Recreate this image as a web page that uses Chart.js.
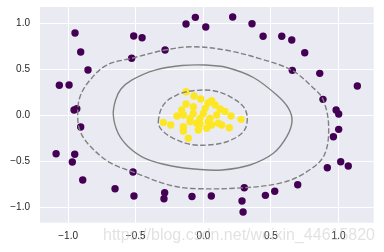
<!DOCTYPE html>
<html><head><meta charset="utf-8">
<script src="https://cdn.jsdelivr.net/npm/chart.js@4/dist/chart.umd.min.js"></script>
<style>html,body{margin:0;padding:0;background:#fff}#wrap{width:384px;height:252px}</style>
</head><body><div id="wrap"><canvas id="c" width="384" height="252"></canvas></div>
<script>
const tickValues = [-1.0, -0.5, 0.0, 0.5, 1.0];

const purpleX = [-0.128,-0.949,-0.515,-0.453,-0.907,-0.283,-0.530,-0.853,-1.065,-0.993,-0.956,-0.936,-0.907,
  -0.059,0.018,0.217,0.360,0.442,0.580,0.654,0.750,0.658,0.861,1.139,0.885,0.982,1.001,
  -1.089,-0.951,-0.969,-0.892,-0.520,-0.653,-0.513,-0.286,-0.291,-0.084,
  0.059,0.303,0.286,0.294,0.459,0.528,0.698,0.917,1.016,1.072,0.962,1.001];
const purpleY = [0.993,0.895,0.863,0.844,0.688,0.710,0.620,0.492,0.326,0.329,0.057,0.071,-0.129,
  1.066,0.961,1.070,0.997,0.861,0.861,0.819,0.681,0.489,0.456,0.318,0.173,0.057,0.013,
  -0.419,-0.426,-0.510,-0.706,-0.619,-0.801,-0.880,-0.844,-0.910,-0.886,
  -0.880,-0.790,-0.935,-1.054,-0.873,-0.829,-0.757,-0.572,-0.507,-0.553,-0.234,-0.154];

const yellowX = [-0.128,-0.019,0.062,-0.160,-0.074,0.013,0.124,0.205,0.279,-0.296,-0.241,-0.148,-0.098,-0.024,0.050,
  0.099,0.111,0.062,0.136,0.192,-0.148,-0.148,-0.037,0.025,-0.111,-0.074,0.000,0.037,-0.049,-0.098,
  0.035,0.087,-0.128,-0.195,-0.069,0.160,-0.024];
const yellowY = [0.256,0.176,0.158,0.057,0.093,0.075,0.068,-0.009,-0.045,-0.078,-0.107,0.002,-0.034,-0.034,-0.034,
  0.002,-0.088,-0.107,-0.107,-0.136,-0.125,-0.172,-0.161,-0.143,-0.251,0.020,0.020,-0.070,-0.088,-0.070,
  0.133,0.111,0.122,-0.009,0.209,0.040,-0.096];

// decision boundary (level 0), closed loop
const boundaryX = [-0.666,-0.649,-0.609,-0.530,-0.357,-0.160,0.013,0.173,0.370,0.543,0.629,0.656,0.617,0.518,0.345,0.138,-0.024,-0.234,-0.431,-0.555,-0.631];
const boundaryY = [0.002,0.166,0.285,0.383,0.492,0.541,0.547,0.520,0.411,0.220,0.078,-0.063,-0.234,-0.415,-0.542,-0.597,-0.592,-0.553,-0.469,-0.343,-0.194];
// outer margin (level -1), closed loop
const outerX = [-0.929,-0.912,-0.838,-0.714,-0.530,-0.283,-0.084,0.163,0.410,0.656,0.804,0.885,0.927,0.891,0.754,0.582,0.303,-0.084,-0.271,-0.518,-0.690,-0.838,-0.912];
const outerY = [0.002,0.202,0.383,0.547,0.620,0.710,0.746,0.710,0.620,0.489,0.310,0.173,-0.129,-0.444,-0.626,-0.735,-0.790,-0.798,-0.753,-0.619,-0.517,-0.336,-0.172];
// inner margin (level +1), closed loop
const innerX = [-0.333,-0.296,-0.197,-0.074,0.074,0.197,0.296,0.325,0.296,0.173,0.025,-0.098,-0.222,-0.308];
const innerY = [-0.071,0.111,0.220,0.267,0.267,0.202,0.093,-0.034,-0.180,-0.289,-0.325,-0.317,-0.252,-0.161];

const pts = (xs, ys) => xs.map((x, i) => ({x: x, y: ys[i]}));

const bgPlugin = {
  id: 'bg',
  afterDatasetUpdate(chart, args) {
    const ds = chart.data.datasets[args.index];
    if (ds.closed) {
      const line = chart.getDatasetMeta(args.index).dataset;
      if (line) { line._loop = true; line._fullLoop = true; }
    }
  },
  beforeDraw(chart) {
    const {ctx, chartArea: a} = chart;
    ctx.save();
    ctx.fillStyle = '#eaeaf2';
    ctx.fillRect(a.left, a.top, a.right - a.left, a.bottom - a.top);
    ctx.restore();
  },
  afterDraw(chart) {
    const ctx = chart.ctx;
    ctx.save();
    ctx.font = '17px "Liberation Sans", sans-serif';
    ctx.fillStyle = 'rgba(190,190,190,0.45)';
    ctx.textBaseline = 'middle';
    ctx.textAlign = 'left';
    ctx.fillText('https://blog.csdn.net/weixin_44615820', 103, 235, 272);
    ctx.restore();
  }
};

const fmt = v => v.toFixed(1).replace('-', '\u2212');
const lineDs = (xs, ys, dash) => ({
  data: pts(xs, ys), showLine: true, closed: true, pointRadius: 0, borderColor: '#808080',
  borderWidth: 1.4, borderDash: dash, tension: 0.35, fill: false, order: 0
});
const tickFont = {size: 10, family: '"Liberation Sans", Arial, sans-serif'};

new Chart(document.getElementById('c'), {
  type: 'scatter',
  data: {
    datasets: [
      {data: pts(purpleX, purpleY), backgroundColor: '#440154', borderWidth: 0, pointRadius: 3.7, order: 2},
      {data: pts(yellowX, yellowY), backgroundColor: '#fde725', borderWidth: 0, pointRadius: 3.7, order: 1},
      lineDs(outerX, outerY, [5.5, 2.4]),
      lineDs(boundaryX, boundaryY, []),
      lineDs(innerX, innerY, [5.5, 2.4])
    ]
  },
  options: {
    responsive: false, animation: false, devicePixelRatio: 1,
    layout: {padding: {left: 0, top: 7, right: 10.3, bottom: 0}},
    plugins: {legend: {display: false}, tooltip: {enabled: false}},
    scales: {
      x: {
        type: 'linear', min: -1.208, max: 1.260,
        afterBuildTicks: s => { s.ticks = tickValues.map(v => ({value: v})); },
        afterFit: s => { s.height = 29.3; s.paddingLeft = 0; s.paddingRight = 0; },
        grid: {color: '#ffffff', lineWidth: 1, drawTicks: false},
        border: {display: false},
        ticks: {padding: 8, color: '#262626', font: tickFont, callback: v => fmt(v)}
      },
      y: {
        type: 'linear', min: -1.171, max: 1.179,
        afterBuildTicks: s => { s.ticks = tickValues.map(v => ({value: v})); },
        afterFit: s => { s.width = 40; s.paddingTop = 0; s.paddingBottom = 0; },
        grid: {color: '#ffffff', lineWidth: 1, drawTicks: false},
        border: {display: false},
        ticks: {padding: 10, color: '#262626', font: tickFont, callback: v => fmt(v)}
      }
    }
  },
  plugins: [bgPlugin]
});
</script></body></html>
